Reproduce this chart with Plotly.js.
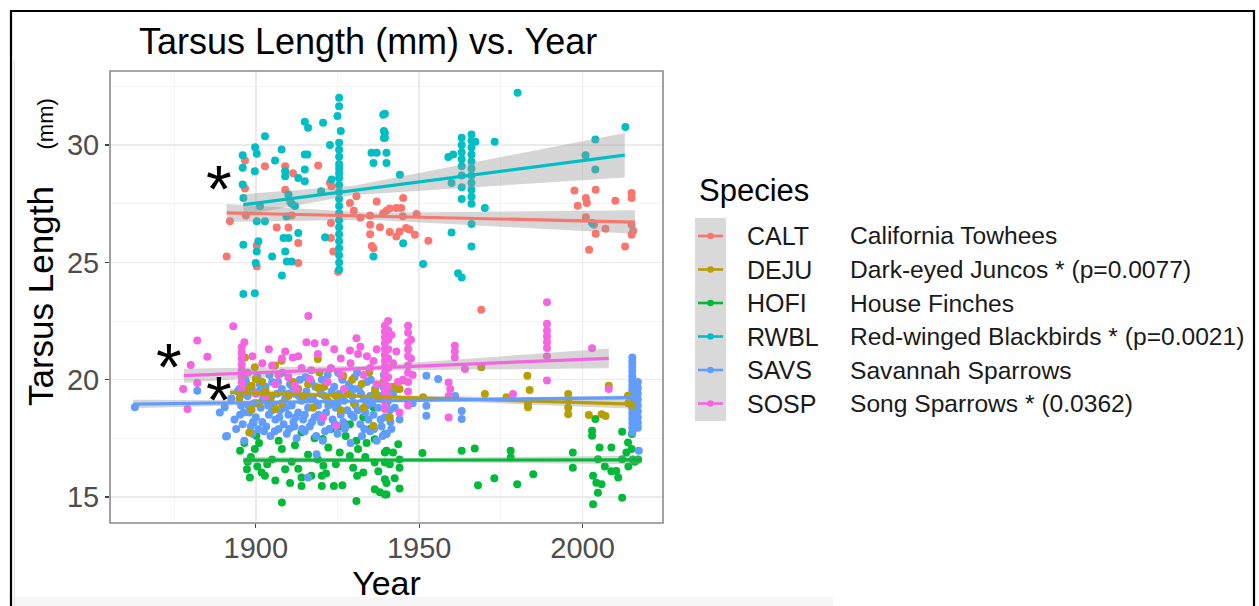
<!DOCTYPE html>
<html>
<head>
<meta charset="utf-8">
<script src="https://cdn.plot.ly/plotly-3.0.1.min.js"></script>
<style>html,body{margin:0;padding:0;background:#fff;}#chart{width:1259px;height:606px;}</style>
</head>
<body>
<div id="chart"></div>
<script>
// ---------- DATA ----------
const species = ['CALT', 'DEJU', 'HOFI', 'RWBL', 'SAVS', 'SOSP'];
const speciesNames = ['California Towhees', 'Dark-eyed Juncos * (p=0.0077)', 'House Finches',
  'Red-winged Blackbirds * (p=0.0021)', 'Savannah Sparrows', 'Song Sparrows * (0.0362)'];
const xTickYears = [1900, 1950, 2000];
const yTickValues = [15, 20, 25, 30];

// [year, tarsus length (mm)]
const caltPoints = [[1891.1,25.25],[1892.1,26.75],[1896.7,29.34],[1896.7,28.15],[1897.0,27.0],[1900.3,25.72],[1900.3,24.83],[1902.8,29.10],[1906.4,26.49],[1909.0,29.10],[1909.0,28.10],[1910.0,26.49],[1910.5,27.6],[1911.0,27.0],[1911.4,28.8],[1913.0,25.83],[1913.0,24.97],[1919.1,29.13],[1922.7,28.40],[1923.2,28.25],[1923.0,26.68],[1923.0,26.04],[1923.7,25.47],[1925.2,24.60],[1928.8,27.53],[1930.8,27.82],[1930.0,27.2],[1932.0,26.9],[1935.0,27.0],[1935.0,26.6],[1935.0,26.2],[1935.5,25.7],[1936.0,25.6],[1937.0,27.6],[1938.0,26.5],[1939.0,27.1],[1940.0,27.2],[1941.0,27.3],[1941.0,26.3],[1943.0,27.32],[1943.0,26.1],[1944.0,26.32],[1945.1,27.75],[1944.5,27.32],[1945.0,26.97],[1946.0,26.47],[1947.0,26.4],[1948.7,26.18],[1949.2,27.06],[1952.8,25.92],[1969.0,22.98],[1997.5,28.07],[2004.0,28.10],[2001.0,27.75],[2001.3,27.53],[1998.5,27.42],[2010.0,27.63],[2015.0,27.96],[2015.0,27.75],[2001.0,26.92],[2003.5,26.61],[2007.0,26.44],[2004.0,26.22],[2015.0,26.61],[2015.5,26.35],[2015.0,26.18],[2002.0,25.54],[2013.0,25.68]];

const dejuPoints = [[1896.7,20.95],[1899.7,20.53],[1900.0,20.03],[1898.7,19.74],[1898.7,18.72],[1898.0,17.75],[1905.9,20.6],[1907.9,20.81],[1906.0,18.75],[1919.0,20.88],[1919.5,20.31],[1926.8,20.17],[1932.4,19.82],[1934.7,20.31],[1919.0,19.67],[1936.0,18.03],[1903.0,19.5],[1910.0,19.3],[1913.0,19.6],[1922.0,19.1],[1928.0,19.4],[1938.0,19.2],[1940.0,20.5],[1942.0,19.7],[1895.0,19.2],[1901.0,19.0],[1930.0,19.0],[1916.0,19.8],[1941.0,18.4],[1897.0,19.6],[1902.0,19.9],[1904.5,19.2],[1908.0,19.0],[1911.5,19.9],[1914.5,19.3],[1917.5,18.8],[1921.0,19.7],[1924.5,19.3],[1926.0,18.7],[1929.5,20.0],[1933.0,18.8],[1936.5,19.5],[1939.0,19.9],[1945.1,19.96],[1944.0,19.6],[1951.2,19.25],[1970.1,19.39],[1969.0,20.53],[1983.1,20.17],[1983.8,19.56],[1976.7,19.25],[1983.3,18.96],[1983.3,18.82],[1995.6,19.39],[1995.6,19.1],[1995.6,18.8],[1995.6,18.53],[2001.9,18.49],[2005.8,18.53],[2007.0,18.45],[2008.0,19.74],[2013.9,19.32],[2015.0,18.9],[2014.0,19.0]];

const hofiPoints = [[1899.3,18.18],[1900.2,17.61],[1899.7,17.04],[1895.2,16.97],[1897.3,16.18],[1898.2,15.83],[1901.8,16.04],[1902.8,15.9],[1897.5,16.5],[1900.5,16.3],[1908.0,17.04],[1909.0,16.18],[1908.0,14.76],[1914.0,17.75],[1914.0,15.83],[1914.0,15.47],[1920.5,17.47],[1922.2,17.11],[1920.7,16.33],[1920.2,15.9],[1920.2,15.47],[1923.9,15.47],[1925.7,18.0],[1928.8,18.1],[1930.8,17.4],[1931.3,17.04],[1932.9,18.4],[1933.9,17.3],[1936.0,18.82],[1936.4,17.46],[1925.7,16.9],[1928.8,16.75],[1929.8,16.25],[1932.9,16.04],[1930.8,14.83],[1936.4,16.47],[1936.4,15.33],[1940.0,15.6],[1940.0,15.1],[1940.0,17.7],[1940.0,16.97],[1911.0,16.5],[1916.0,16.8],[1905.0,16.6],[1896.5,17.3],[1898.5,16.7],[1901.0,17.3],[1903.5,16.4],[1906.0,15.7],[1907.0,17.4],[1910.5,15.6],[1912.0,17.2],[1913.0,16.2],[1917.0,15.9],[1918.0,17.5],[1919.0,16.6],[1921.5,16.0],[1923.0,17.9],[1924.5,16.4],[1926.5,15.5],[1927.5,17.6],[1931.0,15.9],[1933.5,16.7],[1935.0,17.9],[1937.5,16.1],[1938.0,15.2],[1941.0,16.4],[1942.5,15.8],[1939.5,17.68],[1939.5,16.9],[1939.5,16.47],[1939.5,15.76],[1939.5,15.11],[1943.6,17.25],[1942.0,16.9],[1944.0,16.6],[1944.0,16.25],[1944.0,15.36],[1951.0,16.87],[1963.0,16.97],[1967.0,17.07],[1978.0,16.97],[1978.0,16.68],[1997.0,16.9],[1997.0,16.25],[1968.0,15.5],[1973.0,15.8],[1980.0,15.54],[1984.9,15.97],[2003.9,18.32],[2002.9,17.82],[2002.9,17.61],[2005.2,17.11],[2008.8,17.11],[2004.7,16.61],[2003.2,15.9],[2004.2,15.61],[2004.7,15.18],[2005.8,15.54],[2003.2,14.69],[2012.1,17.78],[2015.1,17.68],[2013.9,17.32],[2015.0,17.04],[2013.4,16.9],[2012.1,16.61],[2010.3,16.11],[2010.9,15.83],[2015.4,16.6],[2012.1,14.97],[2017.0,16.6],[2006.8,16.3],[2008.8,16.1],[2014.0,16.3],[2016.0,16.5]];

const rwblPoints = [[1925.5,32.02],[1925.5,31.66],[1925.0,31.24],[1926.0,30.60],[1925.5,30.1],[1925.5,29.8],[1925.5,29.5],[1925.5,29.2],[1925.5,29.0],[1925.5,28.8],[1925.5,28.6],[1925.5,28.3],[1925.5,28.0],[1925.5,27.7],[1925.5,27.4],[1925.5,27.1],[1925.5,26.8],[1925.5,26.5],[1925.5,26.2],[1925.5,25.9],[1925.5,25.6],[1925.5,25.3],[1925.5,25.0],[1925.5,24.7],[1915.0,31.00],[1916.0,30.74],[1920.6,30.95],[1902.8,30.38],[1899.8,29.91],[1900.3,29.63],[1896.0,29.57],[1896.0,29.03],[1907.9,29.81],[1905.9,29.34],[1915.0,29.60],[1915.8,29.60],[1899.7,28.89],[1909.0,28.89],[1909.0,28.67],[1915.0,28.96],[1913.0,28.60],[1915.0,28.46],[1896.0,28.32],[1922.7,30.00],[1923.2,28.53],[1939.0,31.30],[1939.2,30.60],[1939.2,30.30],[1935.4,29.67],[1937.0,29.67],[1936.0,29.24],[1896.2,27.75],[1901.3,27.39],[1910.0,27.90],[1911.0,27.50],[1912.0,27.40],[1920.0,28.03],[1900.3,26.75],[1902.8,26.75],[1909.4,26.96],[1913.0,26.25],[1908.5,26.04],[1910.0,26.04],[1921.2,26.07],[1896.2,25.75],[1900.3,25.47],[1900.8,25.90],[1900.0,24.97],[1905.0,25.25],[1909.0,25.47],[1909.5,25.04],[1911.0,25.04],[1908.0,24.44],[1896.2,23.65],[1899.7,23.69],[1936.0,25.25],[1939.5,31.34],[1939.5,30.52],[1939.5,30.31],[1940.0,29.67],[1940.0,29.24],[1980.1,32.23],[2013.1,30.77],[2003.9,30.24],[2000.9,29.57],[2003.9,28.96],[1973.1,30.14],[1966.0,30.45],[1966.0,30.2],[1966.0,29.9],[1966.0,29.6],[1966.0,29.3],[1966.0,29.0],[1966.0,28.7],[1966.0,28.4],[1966.0,28.1],[1966.0,27.8],[1966.0,27.5],[1967.2,30.14],[1963.0,30.31],[1963.0,30.0],[1963.0,29.7],[1963.0,29.4],[1963.0,29.1],[1963.0,28.7],[1963.0,28.2],[1963.0,27.7],[1958.9,29.49],[1960.4,29.60],[1959.9,28.39],[1944.1,28.74],[1970.1,27.32],[1966.0,26.64],[1959.9,26.28],[1945.1,25.82],[1966.0,25.68],[1951.2,24.93],[1961.9,24.54],[1963.0,24.36],[2002.9,26.68]];

const savsPoints = [[1863.0,18.82],[1882.1,19.53],[1889.0,18.60],[1890.5,18.82],[1890.9,17.58],[1892.5,19.2],[1893.5,18.3],[1894.0,17.9],[1895.0,19.6],[1895.5,18.9],[1896.0,18.1],[1896.5,17.4],[1897.0,19.9],[1897.5,19.3],[1898.0,18.6],[1898.5,18.0],[1899.0,17.7],[1899.5,19.0],[1900.0,18.4],[1900.5,20.1],[1901.0,19.5],[1901.5,18.8],[1902.0,18.2],[1902.5,17.8],[1903.0,19.7],[1903.5,19.1],[1904.0,18.5],[1904.5,17.6],[1905.0,19.9],[1905.5,18.9],[1906.0,18.3],[1906.5,19.4],[1907.0,17.9],[1907.5,18.7],[1908.0,19.6],[1908.5,18.1],[1909.0,19.2],[1909.5,17.7],[1910.0,18.5],[1910.5,19.8],[1911.0,18.9],[1911.5,18.2],[1912.0,19.4],[1912.5,17.5],[1913.0,18.6],[1913.5,20.0],[1914.0,19.1],[1914.5,18.3],[1915.0,17.8],[1915.5,19.5],[1916.0,18.8],[1916.5,18.0],[1917.0,19.9],[1917.5,19.2],[1918.0,18.4],[1918.5,17.6],[1919.0,18.9],[1919.5,19.6],[1920.0,18.2],[1920.5,17.4],[1921.0,19.3],[1921.5,18.6],[1922.0,20.2],[1922.5,17.9],[1923.0,19.0],[1923.5,18.3],[1924.0,19.7],[1924.5,18.8],[1925.0,17.7],[1925.5,19.4],[1926.0,18.5],[1926.5,20.0],[1927.0,19.1],[1927.5,18.0],[1928.0,18.7],[1928.5,19.8],[1929.0,17.3],[1929.5,19.3],[1930.0,18.4],[1930.5,18.9],[1931.0,20.3],[1931.5,19.6],[1932.0,18.1],[1932.5,17.6],[1933.0,19.2],[1933.5,18.6],[1934.0,19.9],[1934.5,18.3],[1935.0,17.8],[1935.5,19.0],[1936.0,18.5],[1936.5,19.6],[1937.0,17.4],[1937.5,18.8],[1938.0,19.3],[1938.5,18.0],[1939.0,19.7],[1939.5,18.4],[1940.0,17.7],[1940.5,19.1],[1941.0,18.7],[1941.5,17.9],[1942.0,19.4],[1896.0,19.4],[1900.0,19.0],[1905.0,18.7],[1910.0,19.4],[1915.0,18.5],[1920.0,19.4],[1925.0,18.9],[1930.0,19.6],[1935.0,19.3],[1940.0,18.9],[1894.5,19.5],[1895.2,18.5],[1896.8,20.0],[1897.8,18.9],[1898.8,19.6],[1899.2,18.2],[1900.8,17.9],[1901.2,19.8],[1902.2,19.2],[1903.2,18.0],[1904.2,20.2],[1904.8,19.3],[1905.8,17.8],[1906.8,19.9],[1907.2,18.4],[1908.2,20.3],[1909.2,18.8],[1910.2,17.9],[1911.2,19.7],[1912.2,18.4],[1913.2,19.3],[1914.2,17.9],[1915.2,20.1],[1916.2,19.2],[1917.2,18.2],[1918.2,19.7],[1919.2,18.5],[1920.2,20.0],[1921.2,17.8],[1922.2,18.9],[1923.2,19.5],[1924.2,18.1],[1925.2,20.3],[1926.2,19.2],[1927.2,17.9],[1928.2,19.5],[1929.2,18.5],[1930.2,20.1],[1931.2,18.7],[1932.2,19.4],[1933.2,17.9],[1934.2,18.9],[1935.2,20.0],[1936.2,17.9],[1937.2,19.2],[1938.2,18.3],[1939.2,20.2],[1940.2,19.5],[1941.2,18.2],[1942.5,18.8],[1943.0,19.6],[1896.3,18.6],[1903.8,18.9],[1911.8,18.0],[1918.8,19.0],[1926.8,18.2],[1933.8,19.0],[1938.8,17.6],[1891.2,17.6],[1916.0,15.83],[1918.6,16.82],[1952.2,20.17],[1955.8,20.03],[1952.2,18.89],[1952.2,18.46],[1963.0,18.67],[1963.0,18.32],[1961.0,19.3],[1948.0,19.0],[1944.0,18.3],[2015.2,20.95],[2015.2,20.75],[2015.2,20.55],[2015.2,20.35],[2015.2,20.15],[2015.2,19.95],[2015.2,19.75],[2015.2,19.55],[2015.2,19.35],[2015.2,19.15],[2015.2,18.95],[2015.2,18.75],[2015.2,18.55],[2015.2,18.35],[2015.2,18.15],[2015.2,17.95],[2015.2,17.75],[2016.9,19.9],[2016.9,19.65],[2016.9,19.4],[2016.9,19.15],[2016.9,18.9],[2016.9,18.65],[2016.9,18.4],[2016.9,18.15],[2016.9,17.95],[2017.2,16.97]];

const sospPoints = [[1916.1,22.71],[1893.1,22.28],[1882.1,21.67],[1885.2,20.98],[1880.1,20.63],[1877.8,19.6],[1879.1,18.75],[1882.1,19.86],[1895.7,21.38],[1895.7,21.15],[1895.7,20.9],[1895.7,20.65],[1895.7,20.4],[1895.7,20.15],[1895.7,19.9],[1895.7,19.6],[1911.3,20.95],[1908.0,20.9],[1915.5,21.6],[1918.0,21.55],[1921.2,21.6],[1930.8,21.77],[1928.8,21.24],[1931.3,21.1],[1920.6,18.39],[1912.0,19.74],[1916.6,20.03],[1912.5,19.53],[1934.0,21.0],[1936.0,20.8],[1924.7,18.03],[1905.0,20.6],[1903.0,19.3],[1923.0,20.5],[1927.0,19.6],[1900.0,19.4],[1907.0,20.2],[1914.0,20.5],[1926.0,20.9],[1933.0,20.2],[1937.0,19.8],[1943.0,21.2],[1945.0,20.0],[1896.5,21.6],[1897.5,20.3],[1899.0,21.0],[1902.0,20.7],[1904.0,21.3],[1906.0,19.8],[1909.0,21.2],[1910.0,20.1],[1913.0,21.0],[1917.0,20.4],[1919.0,21.1],[1922.0,19.9],[1924.0,21.3],[1926.0,20.2],[1929.0,20.7],[1932.0,21.4],[1935.0,20.5],[1937.0,21.3],[1941.5,21.9],[1942.0,20.7],[1943.5,19.9],[1947.5,21.7],[1947.5,20.9],[1948.0,20.2],[1939.5,22.3],[1939.5,22.05],[1939.5,21.8],[1939.5,21.55],[1939.5,21.3],[1939.5,21.05],[1939.5,20.8],[1939.5,20.55],[1939.5,20.3],[1939.5,20.05],[1939.5,19.8],[1939.5,19.55],[1939.5,19.3],[1939.5,19.05],[1939.5,18.75],[1940.5,22.5],[1940.5,22.1],[1940.5,21.7],[1940.5,21.3],[1940.5,20.9],[1940.5,20.5],[1940.5,20.1],[1940.5,19.7],[1940.5,19.3],[1946.6,22.3],[1946.6,22.0],[1946.6,21.6],[1946.6,21.3],[1946.6,21.0],[1946.6,20.6],[1946.6,20.3],[1946.6,19.9],[1946.6,19.5],[1946.6,19.1],[1946.6,18.9],[1944.0,18.6],[1960.9,21.45],[1960.9,21.2],[1960.9,20.95],[1959.0,19.88],[1959.5,19.6],[1959.0,19.3],[1959.0,18.39],[1964.0,20.46],[1978.7,19.39],[1989.1,23.3],[1989.1,22.38],[1989.1,22.1],[1989.1,21.85],[1989.1,21.6],[1989.1,21.35],[1989.1,21.0],[1989.1,19.96],[2002.9,21.34],[2008.0,19.6]];

// fitted lines: start/end year and value, per species
const fitStartYear = [1891.1, 1892.1, 1896.2, 1896.2, 1862.5, 1878.0];
const fitEndYear   = [2016.0, 2015.4, 2017.5, 2012.9, 2017.0, 2008.0];
const fitStartValue = [27.11, 19.46, 16.57, 27.46, 18.96, 20.17];
const fitEndValue   = [26.72, 18.96, 16.58, 29.57, 19.24, 20.91];
// confidence bands: years and lower/upper values
const bandYears = [[1891.1,1935,2016.0],[1892.1,1935,2015.4],[1896.2,1935,2017.5],[1896.2,1930,2012.9],[1862.5,1925,2017.0],[1878.0,1935,2008.0]];
const bandLower = [[26.73,26.82,26.22],[19.31,19.22,18.76],[16.42,16.49,16.40],[27.01,27.87,28.62],[18.78,19.02,19.14],[19.87,20.39,20.49]];
const bandUpper = [[27.49,27.12,27.22],[19.61,19.36,19.16],[16.72,16.65,16.76],[27.91,28.27,30.52],[19.14,19.12,19.34],[20.47,20.59,21.33]];
// significance asterisks [year, value]
const starPositions = [[1888.9,28.50],[1873.6,20.94],[1888.6,19.53]];

// ---------- STYLE ----------
const colors = ['#F8766D', '#B79F00', '#00BA38', '#00BFC4', '#619CFF', '#F564E3'];
const pointSets = [caltPoints, dejuPoints, hofiPoints, rwblPoints, savsPoints, sospPoints];
const drawOrder = [0, 2, 4, 1, 3, 5];
const FONT = 'Liberation Sans, Arial, Helvetica, sans-serif';
const L = 110, T = 71, R = 663, B = 523;
const W = R - L, H = B - T;
const px = p => (p - L) / W;
const py = p => (B - p) / H;

const traces = [];
drawOrder.forEach(i => {
  traces.push({
    type: 'scatter', mode: 'markers', name: species[i],
    x: pointSets[i].map(d => d[0]), y: pointSets[i].map(d => d[1]),
    marker: {color: colors[i], size: 8, line: {width: 0}},
    hoverinfo: 'x+y+name', showlegend: false
  });
});
species.forEach((s, i) => {
  traces.push({
    type: 'scatter', mode: 'lines',
    x: bandYears[i].concat(bandYears[i].slice().reverse()),
    y: bandLower[i].concat(bandUpper[i].slice().reverse()),
    fill: 'toself', fillcolor: 'rgba(153,153,153,0.4)', line: {width: 0},
    hoverinfo: 'skip', showlegend: false
  });
  traces.push({
    type: 'scatter', mode: 'lines',
    x: [fitStartYear[i], fitEndYear[i]], y: [fitStartValue[i], fitEndValue[i]],
    line: {color: colors[i], width: 3.2}, hoverinfo: 'skip', showlegend: false
  });
});

const shapes = [
  {type: 'rect', xref: 'paper', yref: 'paper', x0: px(11), x1: px(1254), y0: py(620), y1: py(11),
   line: {color: '#000', width: 2.2}, fillcolor: 'rgba(0,0,0,0)', layer: 'above'},
  {type: 'rect', xref: 'paper', yref: 'paper', x0: px(13), x1: px(833), y0: py(606), y1: py(597),
   line: {width: 0}, fillcolor: '#f6f6f6', layer: 'below'},
  {type: 'line', xref: 'paper', yref: 'paper', x0: px(14.5), x1: px(14.5), y0: py(606), y1: py(60),
   line: {color: '#e2e2e2', width: 1}},
  {type: 'rect', xref: 'paper', yref: 'paper', x0: 0, x1: 1, y0: 0, y1: 1,
   line: {color: '#8a8a8a', width: 1.6}, fillcolor: 'rgba(0,0,0,0)', layer: 'above'},
  {type: 'rect', xref: 'paper', yref: 'paper', x0: px(695), x1: px(726), y0: py(421), y1: py(218),
   line: {width: 0}, fillcolor: '#d9d9d9'}
];
const annotations = [];
const rowY = [236, 269.5, 303, 336.5, 370, 403.5];
species.forEach((s, i) => {
  shapes.push({type: 'line', xref: 'paper', yref: 'paper', x0: px(698), x1: px(723), y0: py(rowY[i]), y1: py(rowY[i]),
    line: {color: colors[i], width: 2.6}});
  shapes.push({type: 'circle', xref: 'paper', yref: 'paper', x0: px(707.2), x1: px(713.8), y0: py(rowY[i] + 3.3), y1: py(rowY[i] - 3.3),
    line: {width: 0}, fillcolor: colors[i]});
  annotations.push({xref: 'paper', yref: 'paper', x: px(745), y: py(rowY[i]), xanchor: 'left', yanchor: 'middle',
    text: s, showarrow: false, font: {family: FONT, size: 25, color: '#1a1a1a'}});
  annotations.push({xref: 'paper', yref: 'paper', x: px(848), y: py(rowY[i]), xanchor: 'left', yanchor: 'middle',
    text: speciesNames[i], showarrow: false, font: {family: FONT, size: 24.6, color: '#1a1a1a'}});
});
annotations.push({xref: 'paper', yref: 'paper', x: px(697), y: py(190), xanchor: 'left', yanchor: 'middle',
  text: 'Species', showarrow: false, font: {family: FONT, size: 31, color: '#000'}});
// y-axis title in two parts (the unit is set smaller)
annotations.push({xref: 'paper', yref: 'paper', x: px(40), y: py(296), xanchor: 'center', yanchor: 'middle',
  textangle: -90, text: 'Tarsus Length', showarrow: false, font: {family: FONT, size: 35, color: '#000'}});
annotations.push({xref: 'paper', yref: 'paper', x: px(44.5), y: py(124), xanchor: 'center', yanchor: 'middle',
  textangle: -90, text: '(mm)', showarrow: false, font: {family: FONT, size: 22, color: '#000'}});
starPositions.forEach(p => {
  annotations.push({x: p[0], y: p[1], xref: 'x', yref: 'y', text: '*', showarrow: false,
    xanchor: 'center', yanchor: 'middle', yshift: -9, font: {family: FONT, size: 66, color: '#000'}});
});

const layout = {
  width: 1259, height: 606,
  margin: {l: L, r: 1259 - R, t: T, b: 606 - B, pad: 0},
  paper_bgcolor: '#fff', plot_bgcolor: '#fff',
  font: {family: FONT},
  showlegend: false,
  title: {text: 'Tarsus Length (mm) vs. Year', font: {family: FONT, size: 36, color: '#000'},
          x: px(139), xref: 'paper', xanchor: 'left', y: 1 - 41 / 606, yref: 'container', yanchor: 'middle'},
  xaxis: {
    range: [1855.4, 2024.6], tickvals: xTickYears, ticktext: xTickYears.map(String),
    ticks: 'outside', ticklen: 4, tickwidth: 1.3, tickcolor: '#444', ticklabelstandoff: -5,
    tickfont: {family: FONT, size: 29, color: '#4d4d4d'},
    showgrid: true, gridcolor: '#ebebeb', gridwidth: 1.5, zeroline: false, showline: false,
    minor: {tickvals: [1875, 1925, 1975], showgrid: true, gridcolor: '#f4f4f4', gridwidth: 1, ticks: ''},
    title: {text: 'Year', font: {family: FONT, size: 34, color: '#000'}, standoff: 2}
  },
  yaxis: {
    range: [13.89, 33.16], tickvals: yTickValues, ticktext: yTickValues.map(String),
    ticks: 'outside', ticklen: 4, tickwidth: 1.3, tickcolor: '#444',
    tickfont: {family: FONT, size: 29, color: '#4d4d4d'},
    showgrid: true, gridcolor: '#ebebeb', gridwidth: 1.5, zeroline: false, showline: false,
    minor: {tickvals: [17.5, 22.5, 27.5, 32.5], showgrid: true, gridcolor: '#f4f4f4', gridwidth: 1, ticks: ''}
  },
  shapes: shapes,
  annotations: annotations
};

Plotly.newPlot('chart', traces, layout, {staticPlot: true, displayModeBar: false});
</script>
</body>
</html>
